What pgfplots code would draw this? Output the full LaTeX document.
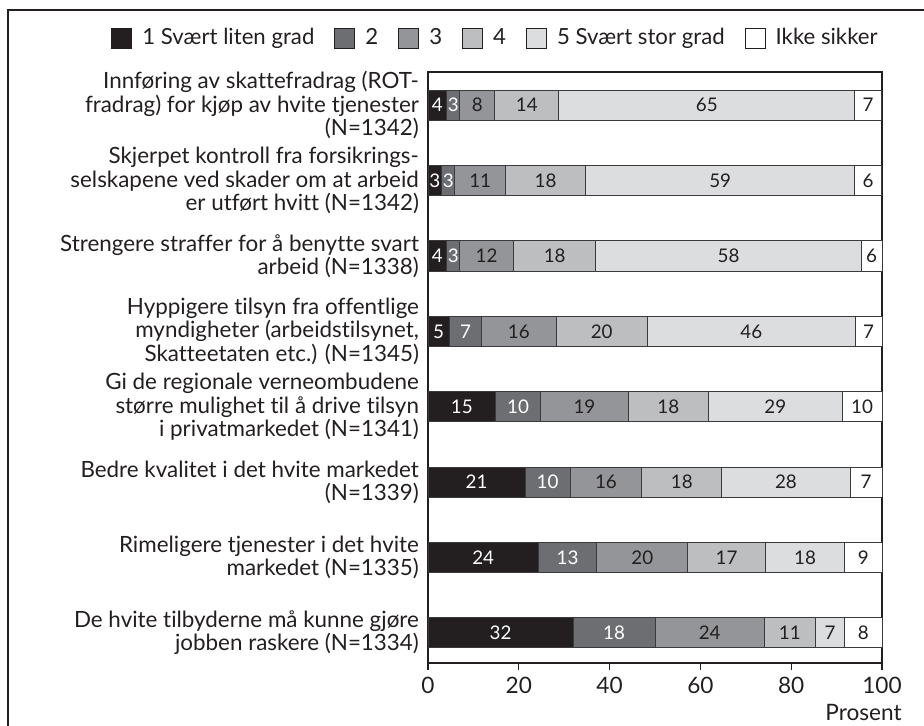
\documentclass[border=0pt]{standalone}
\usepackage{pgfplots}
\pgfplotsset{compat=1.18}
\usepackage{fontspec}
\setmainfont{Lato}[Ligatures=NoCommon]
\definecolor{c1}{HTML}{231F20}
\definecolor{c2}{HTML}{6D6E71}
\definecolor{c3}{HTML}{939598}
\definecolor{c4}{HTML}{BCBEC0}
\definecolor{c5}{HTML}{DCDDDE}
\definecolor{c6}{HTML}{FFFFFF}
\definecolor{txt}{HTML}{231F20}
\definecolor{edge}{HTML}{3A3A3C}
\begin{document}
\begin{tikzpicture}
\path[use as bounding box] (0,0) rectangle (462pt,-362.5pt);
\begin{scope}
\clip (0,0) rectangle (462pt,-362.5pt);
\draw[line width=1.2pt, txt] (4pt,-380pt) -- (4pt,-5pt) -- (480pt,-5pt);
\end{scope}
\begin{axis}[
  at={(214pt,-331.5pt)}, anchor=south west,
  scale only axis, width=227pt, height=295.5pt,
  xbar stacked, bar width=0.4,
  xmin=0, xmax=100, ymin=0.56, ymax=8.4, y dir=reverse,
  axis line style={line width=1pt, txt},
  xtick={0,20,...,100}, xtick pos=bottom, tick align=outside,
  major tick length=3.5pt,
  x tick style={line width=0.6pt, txt},
  xticklabel style={font=\fontsize{11.3}{12}\selectfont, text=txt},
  /pgf/number format/assume math mode=true,
  ytick={1,...,8}, y tick style={draw=none},
  yticklabel style={font=\fontsize{11.2}{11.7}\selectfont, text=txt, align=right, xshift=2.5pt},
  yticklabels={
    {Innføring av skattefradrag (ROT-\\fradrag) for kjøp av hvite tjenester\\(N=1342)},
    {Skjerpet kontroll fra forsikrings-\\selskapene ved skader om at arbeid\\er utført hvitt (N=1342)},
    {Strengere straffer for å benytte svart\\arbeid (N=1338)},
    {Hyppigere tilsyn fra offentlige\\myndigheter (arbeidstilsynet,\\Skatteetaten etc.) (N=1345)},
    {Gi de regionale verneombudene\\større mulighet til å drive tilsyn\\i privatmarkedet (N=1341)},
    {Bedre kvalitet i det hvite markedet\\(N=1339)},
    {Rimeligere tjenester i det hvite\\markedet (N=1335)},
    {De hvite tilbyderne må kunne gjøre\\jobben raskere (N=1334)}},
  point meta=explicit symbolic,
  nodes near coords,
  every node near coord/.append style={anchor=center, font=\fontsize{9.4}{10}\selectfont},
  legend columns=6,
  legend style={draw=none, fill=none, at={(0.151,1.0575)}, anchor=center,
    font=\fontsize{11.1}{12}\selectfont, text=txt, inner sep=0pt,
    /tikz/every odd column/.append style={column sep=3pt},
    /tikz/every even column/.append style={column sep=8pt}},
  legend image code/.code={\draw[#1, draw=txt, line width=0.5pt] (0pt,-5pt) rectangle (10pt,5pt);},
  every axis plot/.append style={draw=edge, line width=0.5pt},
]
\addplot[fill=c1, every node near coord/.append style={text=white}] coordinates {
(4.1,1) [4] (3.0,2) [3] (4.1,3) [4] (4.7,4) [5] (14.9,5) [15] (21.4,6) [21] (24.3,7) [24] (32.0,8) [32]};
\addplot[fill=c2, every node near coord/.append style={text=white}] coordinates {
(2.9,1) [3] (2.9,2) [3] (2.9,3) [3] (7.1,4) [7] (9.9,5) [10] (9.9,6) [10] (12.9,7) [13] (18.0,8) [18]};
\addplot[fill=c3, every node near coord/.append style={text=txt}] coordinates {
(7.7,1) [8] (11.2,2) [11] (11.8,3) [12] (16.4,4) [16] (19.3,5) [19] (15.8,6) [16] (20.0,7) [20] (24.1,8) [24]};
\addplot[fill=c4, every node near coord/.append style={text=txt}] coordinates {
(14.1,1) [14] (17.6,2) [18] (18.2,3) [18] (20.1,4) [20] (17.7,5) [18] (17.6,6) [18] (17.1,7) [17] (11.2,8) [11]};
\addplot[fill=c5, every node near coord/.append style={text=txt}] coordinates {
(65.2,1) [65] (59.3,2) [59] (58.4,3) [58] (45.8,4) [46] (29.4,5) [29] (28.3,6) [28] (17.5,7) [18] (6.5,8) [7]};
\addplot[fill=c6, every node near coord/.append style={text=txt}] coordinates {
(5.9,1) [7] (5.9,2) [6] (4.6,3) [6] (5.9,4) [7] (8.8,5) [10] (7.0,6) [7] (8.2,7) [9] (8.2,8) [8]};
\legend{1 Svært liten grad,2,3,4,5 Svært stor grad,Ikke sikker}
\end{axis}
\node[anchor=east, inner sep=0pt, font=\fontsize{11.3}{12}\selectfont, text=txt] at (451pt,-356pt) {Prosent};
\end{tikzpicture}
\end{document}
